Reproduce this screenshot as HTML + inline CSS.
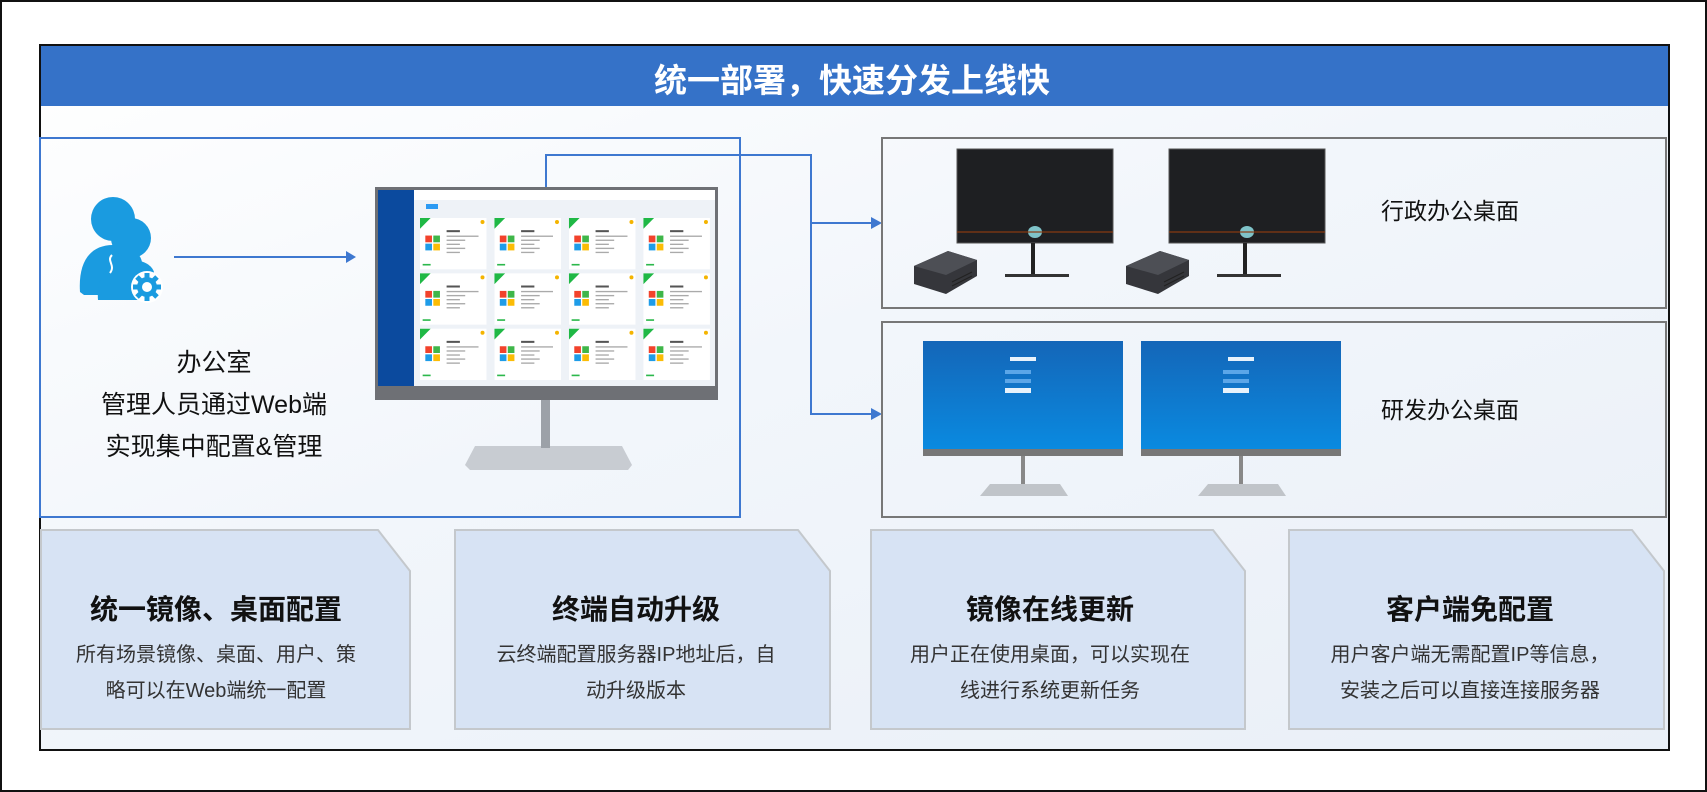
<!DOCTYPE html>
<html><head><meta charset="utf-8">
<style>
html,body{margin:0;padding:0;}
body{width:1707px;height:792px;position:relative;overflow:hidden;background:#fff;font-family:"Liberation Sans","Noto Sans CJK SC",sans-serif;}
.abs{position:absolute;}
.t{position:absolute;white-space:nowrap;text-align:center;transform:translateX(-50%);color:#111;}
</style></head><body>
<div class="abs" style="left:0;top:0;width:1703px;height:788px;border:2px solid #111;"></div>
<div class="abs" style="left:39px;top:44px;width:1627px;height:703px;border:2px solid #111;background:linear-gradient(160deg,#ffffff 0%,#f2f6fb 45%,#e9eff7 100%);"></div>
<div class="abs" style="left:41px;top:46px;width:1627px;height:60px;background:#3572c8;"></div>
<div class="t" style="left:852px;top:54px;font-size:33px;font-weight:bold;color:#fff;">统一部署，快速分发上线快</div>

<svg class="abs" style="left:0;top:0" width="1707" height="792">
<defs>
 <g id="card">
  <rect x="0" y="0" width="50" height="38" fill="#fff"/>
  <polygon points="0,0 8,0 0,8" fill="#1fb845"/>
  <rect x="4" y="13" width="5" height="5" fill="#f2422b"/><rect x="10" y="13" width="5" height="5" fill="#3fb649"/>
  <rect x="4" y="19" width="5" height="5" fill="#1e9ce8"/><rect x="10" y="19" width="5" height="5" fill="#fbbc05"/>
  <rect x="20" y="9" width="10" height="1.5" fill="#555"/>
  <rect x="20" y="13" width="24" height="1" fill="#aaa"/><rect x="20" y="16" width="14" height="1" fill="#aaa"/>
  <rect x="20" y="19" width="10" height="1" fill="#aaa"/><rect x="20" y="22" width="14" height="1" fill="#aaa"/>
  <rect x="20" y="25" width="10" height="1" fill="#aaa"/>
  <circle cx="47" cy="3" r="1.5" fill="#f4b400"/>
  <rect x="2" y="34" width="6" height="1.2" fill="#2cb84c"/>
 </g>
 <linearGradient id="bl" x1="0" y1="0" x2="0" y2="1"><stop offset="0" stop-color="#1466b8"/><stop offset="1" stop-color="#0a8ae0"/></linearGradient>
</defs>
<rect x="40" y="138" width="700" height="379" fill="none" stroke="#3e78d0" stroke-width="2"/>
<!-- person icon -->
<g fill="#1a9be0">
 <circle cx="113" cy="219" r="22"/>
 <path d="M80,292 C78,262 90,245 113,245 C130,245 140,252 142,262 L130,295 L84,295 Z"/>
 <circle cx="131" cy="238" r="20"/>
 <path d="M98,300 C96,275 110,260 131,260 C145,260 152,266 154,272 L140,300 Z"/>
</g>
<g transform="translate(147,287)">
  <circle r="16" fill="#fff"/>
  <g stroke="#1a9be0" stroke-width="5"><line x1="0" y1="-14" x2="0" y2="14"/><line x1="-14" y1="0" x2="14" y2="0"/><line x1="-10" y1="-10" x2="10" y2="10"/><line x1="-10" y1="10" x2="10" y2="-10"/></g>
  <circle r="10" fill="#1a9be0"/>
  <circle r="5" fill="#fff"/>
</g>
<path d="M112,255 c-6,6 4,10 -2,18" stroke="#fff" stroke-width="2" fill="none"/>
<line x1="174" y1="257" x2="348" y2="257" stroke="#3e78d0" stroke-width="2"/>
<polygon points="356,257 346,251 346,263" fill="#3e78d0"/>
<!-- monitor -->
<polygon points="465,465 475,446 622,446 632,465 628,470 470,470" fill="#c8ccd2"/>
<rect x="541" y="398" width="9" height="50" fill="#9ca1a8"/>
<rect x="375" y="187" width="343" height="213" fill="#6e7075"/>
<rect x="378" y="190" width="337" height="196" fill="#eef2f7"/>
<rect x="378" y="190" width="36" height="196" fill="#0b4a9e"/>
<rect x="414" y="190" width="301" height="10" fill="#fff"/>
<rect x="426" y="204" width="12" height="5" fill="#2b9af3"/>
<g transform="translate(420,218)">
 <use href="#card" x="0" y="0" transform="scale(1.33,1.35)"/>
 <use href="#card" x="56" y="0" transform="scale(1.33,1.35)"/>
 <use href="#card" x="112" y="0" transform="scale(1.33,1.35)"/>
 <use href="#card" x="168" y="0" transform="scale(1.33,1.35)"/>
 <use href="#card" x="0" y="41" transform="scale(1.33,1.35)"/>
 <use href="#card" x="56" y="41" transform="scale(1.33,1.35)"/>
 <use href="#card" x="112" y="41" transform="scale(1.33,1.35)"/>
 <use href="#card" x="168" y="41" transform="scale(1.33,1.35)"/>
 <use href="#card" x="0" y="82" transform="scale(1.33,1.35)"/>
 <use href="#card" x="56" y="82" transform="scale(1.33,1.35)"/>
 <use href="#card" x="112" y="82" transform="scale(1.33,1.35)"/>
 <use href="#card" x="168" y="82" transform="scale(1.33,1.35)"/>
</g>
<polyline points="546,187 546,155 811,155 811,414 872,414" fill="none" stroke="#3e78d0" stroke-width="2"/>
<line x1="811" y1="223" x2="872" y2="223" stroke="#3e78d0" stroke-width="2"/>
<polygon points="882,223 871,217 871,229" fill="#3e78d0"/>
<polygon points="882,414 871,408 871,420" fill="#3e78d0"/>
<rect x="882" y="138" width="784" height="170" fill="none" stroke="#777" stroke-width="2"/>
<rect x="882" y="322" width="784" height="195" fill="none" stroke="#777" stroke-width="2"/>
<!-- dark monitors -->
<g>
 <rect x="957" y="149" width="156" height="94" fill="#1e1f22" stroke="#555" stroke-width="1"/>
 <rect x="1031" y="243" width="4" height="33" fill="#222"/><rect x="1005" y="274" width="64" height="3" fill="#333"/>
 <ellipse cx="1035" cy="232" rx="7" ry="6" fill="#7fc3c9"/>
 <rect x="957" y="231" width="156" height="2" fill="#8a3a10" opacity=".6"/>
 <polygon points="914,266 948,251 977,260 977,276 946,294 914,284" fill="#35363b"/>
 <polygon points="914,266 948,251 977,260 946,275" fill="#4d4f55"/>
 <g stroke="#222" stroke-width="1"><line x1="952" y1="282" x2="972" y2="272"/><line x1="952" y1="286" x2="972" y2="276"/></g>
</g>
<g>
 <rect x="1169" y="149" width="156" height="94" fill="#1e1f22" stroke="#555" stroke-width="1"/>
 <rect x="1243" y="243" width="4" height="33" fill="#222"/><rect x="1217" y="274" width="64" height="3" fill="#333"/>
 <ellipse cx="1247" cy="232" rx="7" ry="6" fill="#7fc3c9"/>
 <rect x="1169" y="231" width="156" height="2" fill="#8a3a10" opacity=".6"/>
 <polygon points="1126,266 1160,251 1189,260 1189,276 1158,294 1126,284" fill="#35363b"/>
 <polygon points="1126,266 1160,251 1189,260 1158,275" fill="#4d4f55"/>
 <g stroke="#222" stroke-width="1"><line x1="1164" y1="282" x2="1184" y2="272"/><line x1="1164" y1="286" x2="1184" y2="276"/></g>
</g>
<!-- blue monitors -->
<g>
 <rect x="923" y="341" width="200" height="108" fill="url(#bl)"/>
 <rect x="923" y="449" width="200" height="7" fill="#777"/>
 <rect x="1010" y="357" width="26" height="4" fill="#e8f2fb"/>
 <rect x="1005" y="370" width="26" height="4" fill="#5ba6e8"/><rect x="1005" y="379" width="26" height="4" fill="#5ba6e8"/><rect x="1005" y="388" width="26" height="5" fill="#e8f2fb"/>
 <rect x="1021" y="456" width="4" height="30" fill="#888"/>
 <polygon points="980,496 990,484 1060,484 1068,496" fill="#c0c4c9"/>
</g>
<g>
 <rect x="1141" y="341" width="200" height="108" fill="url(#bl)"/>
 <rect x="1141" y="449" width="200" height="7" fill="#777"/>
 <rect x="1228" y="357" width="26" height="4" fill="#e8f2fb"/>
 <rect x="1223" y="370" width="26" height="4" fill="#5ba6e8"/><rect x="1223" y="379" width="26" height="4" fill="#5ba6e8"/><rect x="1223" y="388" width="26" height="5" fill="#e8f2fb"/>
 <rect x="1239" y="456" width="4" height="30" fill="#888"/>
 <polygon points="1198,496 1208,484 1278,484 1286,496" fill="#c0c4c9"/>
</g>
<g fill="#d7e3f4" stroke="#c4c8cc" stroke-width="2">
 <polygon points="41,530 378,530 410,571 410,729 41,729"/>
 <polygon points="455,530 798,530 830,571 830,729 455,729"/>
 <polygon points="871,530 1213,530 1245,571 1245,729 871,729"/>
 <polygon points="1289,530 1632,530 1664,571 1664,729 1289,729"/>
</g>
</svg>

<div class="t" style="left:214px;top:342px;font-size:25px;line-height:42px;">办公室<br>管理人员通过Web端<br>实现集中配置&amp;管理</div>
<div class="t" style="left:1450px;top:192px;font-size:23px;">行政办公桌面</div>
<div class="t" style="left:1450px;top:391px;font-size:23px;">研发办公桌面</div>

<div class="t" style="left:216px;top:588px;font-size:28px;font-weight:bold;">统一镜像、桌面配置</div>
<div class="t" style="left:216px;top:637px;font-size:20px;line-height:36px;color:#333;">所有场景镜像、桌面、用户、策<br>略可以在Web端统一配置</div>
<div class="t" style="left:636px;top:588px;font-size:28px;font-weight:bold;">终端自动升级</div>
<div class="t" style="left:636px;top:637px;font-size:20px;line-height:36px;color:#333;">云终端配置服务器IP地址后，自<br>动升级版本</div>
<div class="t" style="left:1050px;top:588px;font-size:28px;font-weight:bold;">镜像在线更新</div>
<div class="t" style="left:1050px;top:637px;font-size:20px;line-height:36px;color:#333;">用户正在使用桌面，可以实现在<br>线进行系统更新任务</div>
<div class="t" style="left:1470px;top:588px;font-size:28px;font-weight:bold;">客户端免配置</div>
<div class="t" style="left:1470px;top:637px;font-size:20px;line-height:36px;color:#333;">用户客户端无需配置IP等信息，<br>安装之后可以直接连接服务器</div>
</body></html>
